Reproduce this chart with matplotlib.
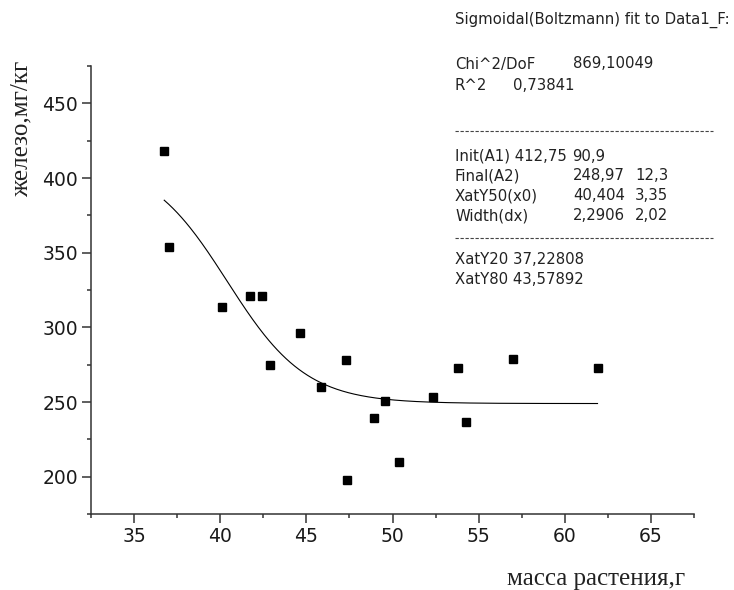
import numpy as np
import matplotlib
matplotlib.use("Agg")
import matplotlib.pyplot as plt
from matplotlib.lines import Line2D
from matplotlib.ticker import MultipleLocator

# Data
mass = [36.75, 37.0, 40.1, 41.7, 42.45, 42.9, 44.65, 45.85, 47.3, 47.35,
        48.95, 49.55, 50.4, 52.35, 53.8, 54.25, 57.0, 61.9]
iron = [418, 354, 313.5, 321, 321, 274.5, 296.5, 260, 278, 198,
        239, 251, 210, 253.5, 273, 236.5, 279, 273]

# Boltzmann fit parameters (from the fit report)
A1, A2, x0, dx = 412.75, 248.97, 40.404, 2.2906

xfit = np.linspace(min(mass), max(mass), 300)
yfit = A2 + (A1 - A2) / (1 + np.exp((xfit - x0) / dx))

W, H = 734, 590
fig = plt.figure(figsize=(W / 100, H / 100), dpi=100)
ax = fig.add_axes([91 / W, 1 - 514 / H, (694 - 91) / W, (514 - 66) / H])

ax.plot(xfit, yfit, color="black", lw=0.8)
ax.plot(mass, iron, "s", color="black", ms=6.2, mec="black")

ax.set_xlim(32.5, 67.5)
ax.set_ylim(175, 475)
ax.xaxis.set_major_locator(MultipleLocator(5))
ax.xaxis.set_minor_locator(MultipleLocator(2.5))
ax.yaxis.set_major_locator(MultipleLocator(50))
ax.yaxis.set_minor_locator(MultipleLocator(25))
ax.set_xticks([35, 40, 45, 50, 55, 60, 65])
ax.set_yticks([200, 250, 300, 350, 400, 450])

for s in ["top", "right"]:
    ax.spines[s].set_visible(False)
for s in ["left", "bottom"]:
    ax.spines[s].set_color("#333333")
    ax.spines[s].set_linewidth(1.1)

ax.tick_params(which="major", direction="out", length=6.5, width=1.1,
               color="#333333", labelsize=13.5, pad=3)
ax.tick_params(which="minor", direction="out", length=2.8, width=1.1,
               color="#333333")
for lbl in ax.get_xticklabels() + ax.get_yticklabels():
    lbl.set_family("DejaVu Sans")
    lbl.set_color("#1a1a1a")

# axis titles
fig.text(28 / W, 1 - 129 / H, "железо,мг/кг", rotation=90,
         rotation_mode="anchor", ha="center", va="baseline",
         family="Liberation Serif", fontsize=18, color="#222222")
fig.text(596 / W, 1 - 585 / H, "масса растения,г", ha="center",
         va="baseline", family="Liberation Serif", fontsize=18,
         color="#222222")

# fit report
def put(px, py, s):
    fig.text(px / W, 1 - py / H, s, ha="left", va="center",
             family="DejaVu Sans", fontsize=10.7, color="#222222")

put(455, 20, "Sigmoidal(Boltzmann) fit to Data1_F:")
put(455, 64, "Chi^2/DoF")
put(573, 64, "869,10049")
put(455, 85, "R^2")
put(513, 85, "0,73841")
put(455, 156, "Init(A1) 412,75")
put(572, 156, "90,9")
put(455, 176, "Final(A2)")
put(573, 176, "248,97")
put(635, 176, "12,3")
put(455, 196, "XatY50(x0)")
put(573, 196, "40,404")
put(635, 196, "3,35")
put(455, 216, "Width(dx)")
put(573, 216, "2,2906")
put(635, 216, "2,02")
put(455, 259, "XatY20 37,22808")
put(455, 279, "XatY80 43,57892")

for py in [131, 238]:
    fig.add_artist(Line2D([455 / W, 713 / W], [1 - py / H, 1 - py / H],
                          ls=(0, (3, 1.5)), lw=0.8, color="#444444"))

fig.savefig("out.png", dpi=100)
